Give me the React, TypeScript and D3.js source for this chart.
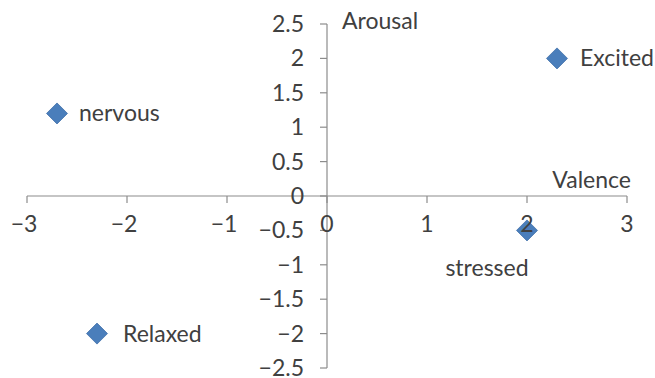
import React from "react";
import * as d3 from "d3";

const names = ["Excited", "nervous", "stressed", "Relaxed"];
const valence = [2.3, -2.7, 2, -2.3];
const arousal = [2, 1.2, -0.5, -2];
// label offsets relative to the marker (pixels)
const labelDx = [23, 22, -40, 26];
const labelDy = [0, 0, 38, 0];
const labelAnchor = ["start", "start", "middle", "start"];

const xTicks = [-3, -2, -1, 0, 1, 2, 3];
const yTicks = [2.5, 2, 1.5, 1, 0.5, 0, -0.5, -1, -1.5, -2, -2.5];
const xTitle = "Valence";
const yTitle = "Arousal";

const W = 655;
const H = 378;
const FONT = "Lato, 'Open Sans', sans-serif";
const TEXT = "#404040";
const AXIS = "#8c8c8c";

const fmt = (v: number) => (v < 0 ? "\u2212" + String(Math.abs(v)) : String(v));

export default function App() {
  const x = d3.scaleLinear().domain([-3, 3]).range([27, 627]);
  const y = d3.scaleLinear().domain([-2.5, 2.5]).range([368, 24]);
  const x0 = x(0);
  const y0 = y(0);
  const r = 10.5;
  const fs = 23;

  return (
    <svg
      width={W}
      height={H}
      style={{ position: "absolute", left: 0, top: 0, background: "#fff" }}
      fontFamily={FONT}
    >
      {/* x axis */}
      <line x1={x(-3)} x2={x(3)} y1={y0} y2={y0} stroke={AXIS} strokeWidth={1.2} />
      {xTicks.map((t) => (
        <line key={"xt" + t} x1={x(t)} x2={x(t)} y1={y0} y2={y0 + 7} stroke={AXIS} strokeWidth={1.2} />
      ))}
      {/* y axis */}
      <line x1={x0} x2={x0} y1={y(2.5)} y2={y(-2.5)} stroke={AXIS} strokeWidth={1.2} />
      {yTicks.map((t) => (
        <line key={"yt" + t} x1={x0 - 7} x2={x0} y1={y(t)} y2={y(t)} stroke={AXIS} strokeWidth={1.2} />
      ))}

      {/* points */}
      {names.map((n, i) => {
        const px = x(valence[i]);
        const py = y(arousal[i]);
        return (
          <path
            key={"p" + n}
            d={`M${px},${py - r}L${px + r},${py}L${px},${py + r}L${px - r},${py}Z`}
            fill="#4A7EBB"
            stroke="#3F6FA8"
            strokeWidth={0.8}
          />
        );
      })}

      {/* tick labels */}
      {xTicks.map((t) => (
        <text
          key={"xl" + t}
          x={x(t) - (t < 0 ? 3 : 0)}
          y={y0 + 36}
          textAnchor="middle"
          fontSize={fs}
          fill={TEXT}
        >
          {fmt(t)}
        </text>
      ))}
      {yTicks.map((t) => (
        <text
          key={"yl" + t}
          x={x0 - 23}
          y={y(t)}
          dy="0.35em"
          textAnchor="end"
          fontSize={fs}
          fill={TEXT}
        >
          {fmt(t)}
        </text>
      ))}

      {/* data labels */}
      {names.map((n, i) => (
        <text
          key={"l" + n}
          x={x(valence[i]) + labelDx[i]}
          y={y(arousal[i]) + labelDy[i]}
          dy="0.35em"
          textAnchor={labelAnchor[i] as any}
          fontSize={fs}
          fill={TEXT}
        >
          {n}
        </text>
      ))}

      {/* axis titles */}
      <text x={x0 + 15} y={29} fontSize={fs} fill={TEXT}>
        {yTitle}
      </text>
      <text x={631} y={188} textAnchor="end" fontSize={fs} fill={TEXT}>
        {xTitle}
      </text>
    </svg>
  );
}
